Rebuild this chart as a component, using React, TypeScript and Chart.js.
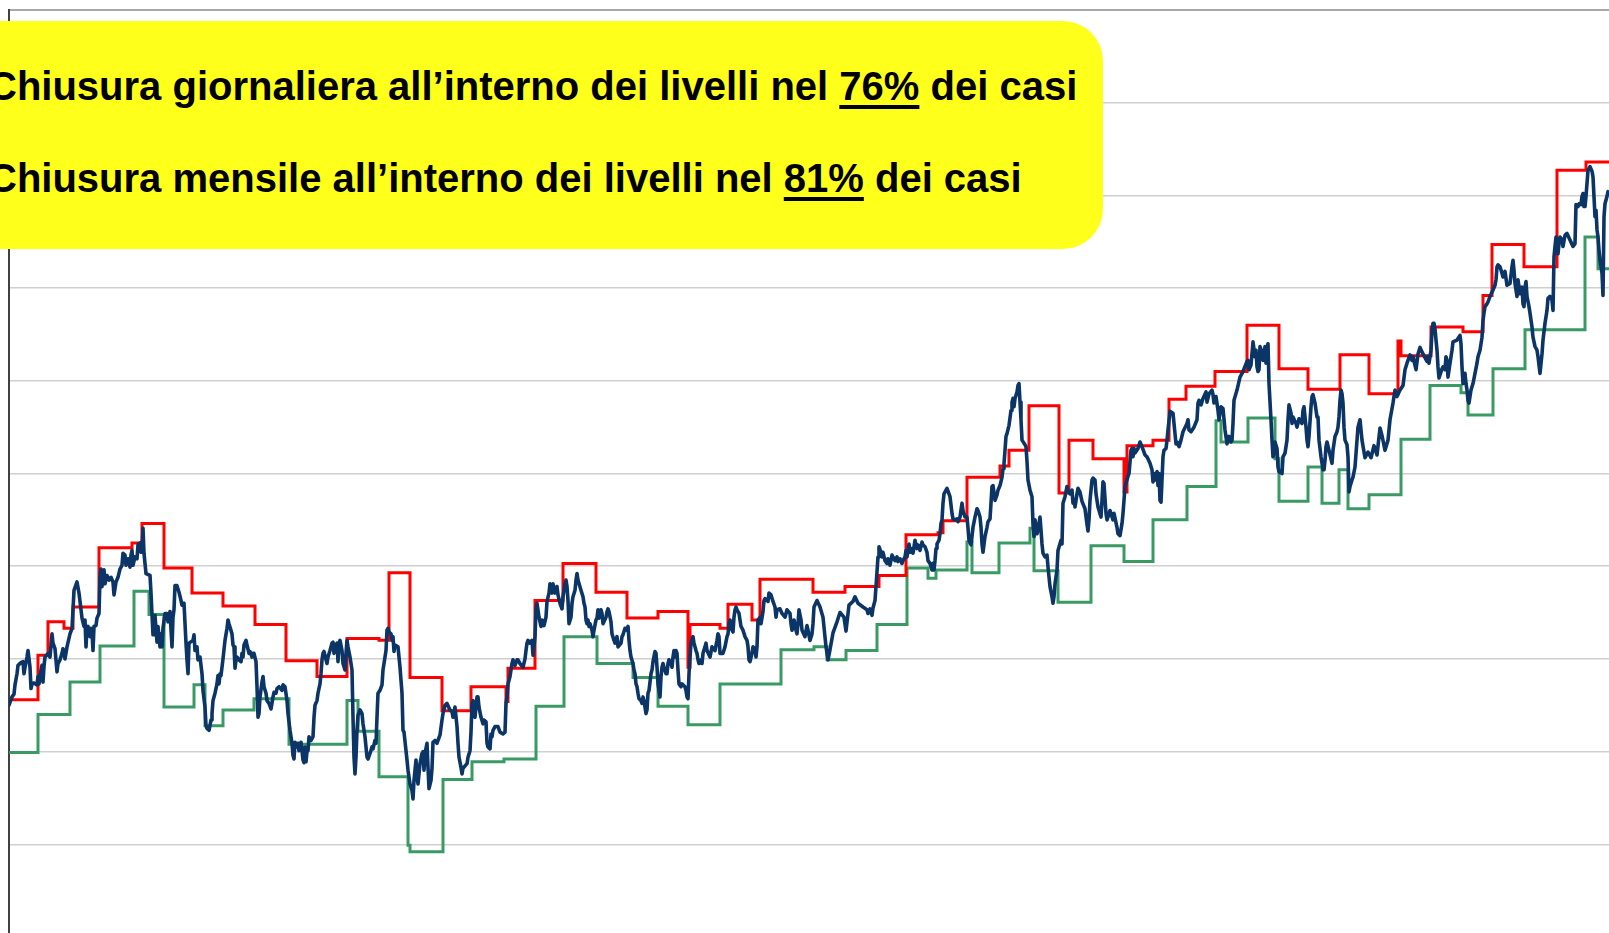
import React, { useEffect, useRef } from "react";
import { Chart, registerables } from "chart.js";

Chart.register(...registerables);

// Daily close: [trading day, level]
const dailyClose: [number, number][] = [
  [0,2.50],[3,2.59],[5,2.62],[6,2.72],[8,2.84],[9,2.93],[12,2.96],[14,2.97],[15,2.84],[16,2.91],[18,3.02],[19,3.09],[21,2.91],[22,2.68],[23,2.73],[25,2.74],[28,2.72],[29,2.81],[30,2.73],[31,2.82],[33,2.93],[34,2.75],[35,2.92],[36,3.02],[39,3.06],[41,3.02],[43,3.27],[44,3.17],[46,3.11],[48,2.86],[49,2.95],[51,2.99],[53,3.06],[54,3.11],[56,3.00],[58,3.13],[61,3.27],[63,3.33],[64,3.53],[65,3.74],[68,3.83],[70,3.71],[72,3.53],[73,3.44],[75,3.35],[76,3.42],[77,3.13],[78,3.33],[79,3.35],[81,3.24],[82,3.33],[83,3.29],[84,3.09],[85,3.35],[87,3.36],[88,3.44],[90,3.49],[91,3.88],[92,3.97],[93,3.78],[95,3.96],[96,3.81],[98,3.90],[100,3.85],[102,3.88],[104,3.83],[105,3.69],[107,3.83],[109,3.88],[111,3.97],[113,4.01],[114,4.14],[116,4.12],[117,4.01],[119,4.08],[121,3.99],[122,4.12],[123,4.17],[124,4.01],[126,4.10],[128,4.08],[129,4.23],[131,4.25],[132,4.15],[133,4.19],[134,4.41],[135,4.14],[137,3.92],[141,3.90],[142,3.71],[144,3.26],[145,3.26],[146,3.47],[148,3.18],[149,3.35],[151,3.13],[152,3.27],[153,3.13],[154,3.33],[156,3.49],[158,3.49],[159,3.40],[161,3.51],[163,3.13],[164,3.45],[165,3.53],[166,3.79],[168,3.79],[170,3.72],[172,3.63],[173,3.58],[175,3.60],[177,3.17],[178,2.99],[179,2.84],[180,3.17],[184,3.20],[185,3.26],[186,3.09],[188,3.13],[189,2.99],[191,3.02],[193,2.84],[194,2.66],[196,2.48],[197,2.28],[198,2.25],[200,2.23],[202,2.34],[203,2.41],[204,2.55],[206,2.63],[208,2.73],[209,2.82],[210,2.73],[211,2.84],[212,2.82],[214,3.00],[216,3.20],[218,3.33],[219,3.42],[220,3.38],[223,3.27],[224,3.15],[225,3.13],[226,2.90],[227,2.99],[228,3.02],[230,2.99],[232,2.97],[233,3.06],[234,3.02],[235,3.15],[237,3.20],[238,3.15],[240,3.06],[241,3.08],[243,3.02],[244,3.06],[245,3.06],[247,2.97],[248,2.70],[249,2.37],[250,2.41],[251,2.59],[253,2.75],[254,2.81],[255,2.70],[257,2.63],[258,2.55],[260,2.52],[262,2.46],[264,2.59],[265,2.64],[267,2.63],[268,2.68],[270,2.70],
  [273,2.66],[274,2.72],[276,2.70],[278,2.55],[279,2.41],[281,2.23],[283,2.09],[284,1.96],[285,1.92],[286,2.10],[288,2.05],[289,2.09],[290,2.01],[292,2.10],[293,2.01],[294,1.91],[295,1.88],[296,2.05],[297,1.89],[298,2.00],[299,2.01],[300,2.16],[302,2.12],[304,2.16],[305,2.37],[306,2.50],[308,2.55],[309,2.63],[311,2.73],[312,2.84],[313,2.99],[314,3.06],[315,3.08],[317,2.99],[318,2.95],[319,3.02],[321,3.09],[323,3.17],[324,3.18],[325,3.06],[326,3.13],[328,3.17],[329,2.97],[330,3.17],[331,3.20],[333,3.09],[334,2.95],[336,2.88],[337,3.06],[338,3.20],[339,3.13],[341,3.02],[342,2.95],[343,2.88],[344,2.37],[345,1.94],[346,1.76],[347,1.94],[348,2.23],[349,2.39],[351,2.45],[353,2.41],[354,2.30],[356,2.16],[358,1.94],[359,1.92],[361,1.98],[363,2.05],[364,2.03],[366,2.12],[367,2.09],[368,2.37],[369,2.63],[371,2.66],[373,2.72],[374,2.88],[376,3.02],[377,3.09],[378,3.31],[379,3.33],[380,3.29],[382,3.27],[383,3.20],[384,3.24],[385,3.08],[386,3.15],[389,3.13],[391,2.91],[393,2.63],[394,2.23],[395,2.21],[397,2.01],[398,1.91],[399,1.80],[401,1.65],[403,1.58],[404,1.49],[405,1.69],[407,1.91],[408,1.73],[409,1.65],[411,1.87],[413,1.98],[414,2.00],[415,1.80],[416,1.98],[418,2.09],[419,1.83],[420,1.60],[422,1.69],[423,1.82],[424,2.10],[426,2.12],[428,2.09],[429,2.12],[431,2.18],[433,2.34],[434,2.41],[436,2.50],[438,2.52],[441,2.45],[443,2.43],[444,2.37],[446,2.48],[448,2.27],[449,2.09],[450,1.94],[452,1.83],[453,1.76],[454,1.82],[458,1.87],[459,1.94],[461,2.01],[462,2.21],[463,2.52],[464,2.55],[465,2.41],[466,2.37],[468,2.59],[469,2.59],[470,2.48],[472,2.37],[474,2.30],[475,2.34],[477,2.32],[478,2.09],[479,2.05],[481,2.03],[482,2.19],[483,2.16],[484,2.23],[486,2.27],[489,2.27],[491,2.21],[494,2.19],[496,2.21],[497,2.52],[498,2.59],[499,2.73],[501,2.81],[502,2.81],[503,2.95],[504,2.99],[506,2.93],[508,2.99],[509,2.99],[511,2.95],[514,2.91],[516,3.00],[517,3.09],[518,3.17],[519,3.20],[521,3.17],[523,3.20],[524,3.04],[526,3.24],[527,3.53],[528,3.60],[530,3.45],[532,3.35],[533,3.42],[535,3.36],[537,3.45],[538,3.62],[540,3.71],[541,3.81],
  [543,3.71],[544,3.81],[546,3.71],[548,3.78],[549,3.69],[551,3.60],[553,3.54],[554,3.67],[556,3.81],[557,3.85],[558,3.78],[559,3.63],[560,3.38],[562,3.45],[563,3.60],[564,3.67],[566,3.74],[567,3.85],[568,3.92],[569,3.85],[572,3.74],[574,3.67],[575,3.60],[576,3.56],[577,3.42],[578,3.38],[579,3.42],[580,3.35],[581,3.38],[583,3.31],[584,3.24],[585,3.31],[587,3.42],[588,3.44],[589,3.53],[590,3.44],[592,3.53],[593,3.49],[594,3.38],[597,3.45],[598,3.51],[599,3.54],[600,3.51],[602,3.40],[603,3.27],[605,3.20],[606,3.17],[608,3.24],[609,3.13],[612,3.17],[613,3.24],[614,3.26],[616,3.33],[618,3.31],[619,3.35],[620,3.20],[621,3.09],[622,3.02],[624,2.95],[625,2.88],[626,2.84],[627,2.73],[628,2.70],[629,2.63],[630,2.57],[632,2.55],[633,2.52],[634,2.59],[635,2.55],[636,2.48],[637,2.41],[638,2.45],[639,2.63],[640,2.66],[642,2.84],[643,2.88],[644,2.97],[646,3.08],[647,3.06],[648,2.91],[649,2.73],[651,2.59],[652,2.81],[653,2.91],[654,2.95],[655,2.91],[657,2.84],[658,2.84],[659,2.95],[660,2.99],[662,2.95],[663,2.91],[664,3.02],[665,3.09],[666,3.02],[667,3.09],[668,3.06],[669,2.88],[670,2.73],[672,2.70],[673,2.73],[676,2.70],[677,2.66],[678,2.59],[679,2.57],[680,2.84],[681,3.02],[682,3.17],[684,3.24],[685,3.17],[687,3.09],[688,3.06],[689,2.99],[690,2.95],[692,2.99],[693,2.95],[694,3.06],[696,3.13],[697,3.17],[698,3.09],[701,3.02],[703,3.13],[706,3.09],[708,3.20],[709,3.27],[710,3.24],[711,3.06],[714,3.06],[716,3.13],[718,3.24],[719,3.27],[720,3.38],[721,3.42],[723,3.31],[724,3.29],[725,3.45],[726,3.53],[727,3.56],[728,3.53],[730,3.49],[731,3.42],[732,3.35],[734,3.31],[736,3.24],[738,3.20],[739,3.13],[740,2.99],[741,2.97],[743,3.06],[744,3.13],[746,3.11],[747,3.02],[748,3.13],[749,3.42],[751,3.45],[752,3.38],[754,3.51],[755,3.63],[756,3.65],[759,3.62],[760,3.71],[762,3.69],[764,3.62],[766,3.56],[767,3.45],[768,3.53],[771,3.54],[773,3.49],[776,3.45],[778,3.53],[781,3.49],[782,3.38],[783,3.31],[784,3.35],[785,3.42],[787,3.31],[788,3.27],[789,3.38],[790,3.53],[792,3.42],[793,3.31],[796,3.24],[798,3.36],[799,3.31],[801,3.20],[803,3.27],[804,3.38],[805,3.56],[808,3.63],
  [811,3.56],[814,3.45],[817,3.13],[819,2.99],[821,3.10],[824,3.28],[828,3.40],[831,3.50],[835,3.45],[837,3.30],[840,3.58],[844,3.62],[846,3.67],[849,3.60],[854,3.56],[858,3.53],[859,3.49],[861,3.54],[863,3.47],[864,3.55],[866,3.63],[867,3.78],[869,4.10],[870,4.21],[872,4.15],[873,4.10],[874,4.15],[876,4.06],[878,4.03],[879,4.08],[881,4.01],[883,4.12],[884,4.10],[886,4.06],[888,4.10],[889,4.05],[891,4.08],[893,4.03],[894,4.06],[896,4.10],[897,4.17],[898,4.10],[900,4.24],[901,4.15],[902,4.19],[904,4.14],[905,4.21],[906,4.28],[908,4.19],[909,4.23],[911,4.17],[913,4.26],[914,4.23],[916,4.21],[918,4.15],[919,4.06],[921,4.03],[923,3.96],[924,4.03],[925,3.96],[926,4.06],[927,4.19],[928,4.24],[930,4.28],[931,4.35],[932,4.46],[933,4.50],[934,4.68],[935,4.78],[937,4.82],[938,4.84],[940,4.78],[941,4.75],[943,4.57],[944,4.51],[946,4.50],[948,4.51],[949,4.48],[951,4.53],[953,4.68],[954,4.60],[956,4.53],[958,4.53],[959,4.41],[960,4.28],[962,4.23],[963,4.32],[964,4.42],[966,4.53],[968,4.62],[969,4.60],[971,4.53],[972,4.42],[973,4.24],[974,4.15],[976,4.32],[978,4.42],[979,4.48],[981,4.51],[982,4.68],[983,4.86],[984,4.87],[986,4.71],[988,4.77],[989,4.82],[991,4.87],[993,4.96],[994,5.05],[995,5.11],[996,5.25],[997,5.40],[998,5.43],[1000,5.52],[1002,5.68],[1003,5.77],[1004,5.81],[1005,5.72],[1006,5.81],[1008,5.88],[1009,5.95],[1010,5.97],[1011,5.77],[1012,5.58],[1013,5.36],[1016,5.31],[1017,5.29],[1018,5.13],[1019,4.93],[1021,4.82],[1023,4.75],[1024,4.45],[1025,4.32],[1026,4.50],[1028,4.35],[1029,4.39],[1030,4.46],[1031,4.53],[1032,4.39],[1033,4.24],[1034,4.14],[1036,4.10],[1038,4.12],[1039,3.99],[1041,3.78],[1043,3.67],[1044,3.60],[1045,3.67],[1046,3.81],[1048,3.96],[1049,4.17],[1052,4.28],[1053,4.24],[1054,4.68],[1056,4.75],[1058,4.86],[1059,4.82],[1061,4.78],[1063,4.82],[1064,4.68],[1065,4.71],[1066,4.64],[1068,4.78],[1069,4.84],[1071,4.80],[1073,4.70],[1076,4.62],[1078,4.45],[1079,4.38],[1080,4.50],
  [1081,4.71],[1083,4.93],[1084,4.95],[1086,4.93],[1087,4.78],[1089,4.64],[1092,4.53],[1093,4.71],[1094,4.91],[1095,4.89],[1097,4.57],[1098,4.50],[1101,4.60],[1104,4.50],[1105,4.57],[1108,4.42],[1109,4.35],[1111,4.33],[1113,4.46],[1114,4.57],[1115,4.71],[1116,4.86],[1119,4.97],[1120,5.00],[1122,5.25],[1123,5.27],[1124,5.18],[1125,5.27],[1126,5.22],[1129,5.27],[1131,5.34],[1133,5.29],[1136,5.20],[1138,5.18],[1141,5.11],[1143,5.04],[1144,4.91],[1146,5.00],[1147,4.93],[1148,5.02],[1149,4.87],[1150,5.00],[1151,4.71],[1152,4.69],[1153,4.93],[1154,5.18],[1155,5.25],[1157,5.27],[1158,5.36],[1159,5.47],[1161,5.67],[1164,5.65],[1165,5.54],[1166,5.43],[1167,5.32],[1168,5.34],[1170,5.29],[1172,5.36],[1174,5.45],[1178,5.54],[1179,5.58],[1180,5.47],[1182,5.45],[1185,5.50],[1188,5.58],[1189,5.76],[1190,5.79],[1192,5.74],[1194,5.81],[1197,5.88],[1198,5.77],[1200,5.86],[1203,5.90],[1204,5.85],[1205,5.76],[1207,5.83],[1209,5.68],[1210,5.58],[1212,5.72],[1214,5.70],[1216,5.47],[1218,5.32],[1220,5.40],[1222,5.34],[1223,5.36],[1224,5.54],[1225,5.79],[1228,5.90],[1231,6.04],[1234,6.10],[1238,6.21],[1239,6.22],[1240,6.12],[1242,6.17],[1244,6.42],[1246,6.26],[1247,6.33],[1248,6.15],[1249,6.10],[1250,6.12],[1251,6.37],[1253,6.31],[1254,6.22],[1255,6.26],[1256,6.37],[1257,6.19],[1258,6.35],[1259,6.40],[1260,5.97],[1262,5.58],[1263,5.36],[1264,5.18],[1265,5.22],[1266,5.34],[1268,5.27],[1269,5.07],[1270,5.02],[1273,5.00],[1274,5.18],[1276,5.22],[1278,5.36],[1279,5.58],[1280,5.74],[1282,5.65],[1283,5.54],[1284,5.61],[1287,5.54],[1288,5.50],[1290,5.59],[1293,5.54],[1294,5.68],[1295,5.72],[1297,5.50],[1298,5.36],[1299,5.29],[1300,5.40],[1302,5.72],[1303,5.83],[1304,5.85],[1306,5.76],[1308,5.61],[1309,5.61],[1310,5.36],[1312,5.18],[1314,5.04],[1315,5.04],[1316,5.14],[1317,5.29],[1318,5.34],[1320,5.25],[1323,5.11],[1324,5.25],[1326,5.40],[1328,5.45],[1329,5.50],[1330,5.61],[1331,5.79],[1332,5.90],[1333,5.86],[1334,5.76],[1335,5.50],[1336,5.36],[1338,5.31],[1339,5.18],[1340,4.80],[1341,4.86],[1343,4.93],[1344,4.96],[1346,5.07],[1348,5.36],[1349,5.50],[1351,5.58],
  [1353,5.36],[1356,5.17],[1359,5.23],[1362,5.17],[1365,5.30],[1368,5.20],[1371,5.49],[1373,5.41],[1376,5.25],[1379,5.36],[1381,5.58],[1384,5.76],[1386,5.90],[1388,5.83],[1391,5.90],[1394,5.95],[1396,6.12],[1398,6.19],[1401,6.28],[1403,6.22],[1404,6.26],[1407,6.12],[1409,6.29],[1411,6.36],[1414,6.29],[1418,6.21],[1419,6.26],[1420,6.19],[1422,6.33],[1423,6.53],[1424,6.62],[1425,6.62],[1426,6.56],[1427,6.44],[1428,6.33],[1429,6.15],[1430,6.03],[1433,6.13],[1434,6.15],[1436,6.12],[1437,6.26],[1438,6.22],[1439,6.04],[1441,6.19],[1443,6.33],[1444,6.42],[1448,6.44],[1451,6.49],[1452,6.40],[1453,6.15],[1454,5.97],[1455,6.01],[1456,6.08],[1457,5.97],[1458,5.90],[1459,5.79],[1460,5.76],[1462,5.90],[1464,5.97],[1466,6.08],[1468,6.19],[1469,6.26],[1471,6.33],[1473,6.47],[1474,6.65],[1475,6.73],[1476,6.80],[1478,6.83],[1479,6.85],[1481,6.91],[1484,6.98],[1486,7.03],[1487,7.09],[1488,7.23],[1489,7.25],[1491,7.23],[1493,7.16],[1494,7.12],[1496,7.18],[1498,7.03],[1501,7.05],[1503,7.23],[1504,7.30],[1505,7.19],[1506,7.05],[1508,6.91],[1509,7.09],[1511,6.94],[1513,7.01],[1514,6.83],[1515,6.80],[1516,7.01],[1517,7.07],[1518,6.91],[1520,6.80],[1521,6.73],[1523,6.58],[1524,6.47],[1526,6.37],[1528,6.33],[1529,6.26],[1531,6.08],[1533,6.29],[1534,6.44],[1536,6.62],[1538,6.76],[1539,6.89],[1541,6.91],[1543,6.87],[1544,6.76],[1545,7.34],[1546,7.45],[1547,7.55],[1548,7.48],[1549,7.37],[1550,7.48],[1551,7.55],[1553,7.52],[1554,7.45],[1556,7.57],[1558,7.59],[1561,7.52],[1564,7.45],[1566,7.48],[1567,7.90],[1569,7.88],[1570,7.91],[1572,7.90],[1573,7.99],[1574,8.02],[1575,7.88],[1576,7.88],[1577,7.99],[1578,8.13],[1579,8.27],[1581,8.31],[1583,8.26],[1584,8.20],[1586,7.77],[1587,7.84],[1588,7.63],[1589,7.55],[1590,7.41],[1591,7.30],[1593,7.16],[1594,6.92],[1595,7.77],[1596,7.91],[1598,7.99],[1599,8.04],[1600,8.02],
];

// Monthly upper level: [first day, level]
const upperLevel: [number, number][] = [
  [0,2.56],[29,3.04],[39,3.40],[55,3.33],[64,3.56],[90,4.20],[123,4.25],[133,4.46],[155,3.98],[183,3.71],[214,3.57],[246,3.37],[277,2.98],[308,2.81],[338,3.22],[370,3.20],[380,3.93],[401,2.80],[433,2.44],[462,2.70],[497,2.54],[499,2.90],[526,3.63],[554,4.03],[587,3.72],[618,3.44],[649,3.51],[679,2.91],[681,3.37],[711,3.33],[719,3.59],[743,3.42],[751,3.86],[804,3.72],[836,3.78],[870,3.90],[897,4.34],[929,4.36],[934,4.49],[958,4.96],[991,5.08],[1000,5.25],[1020,5.73],[1050,4.79],[1060,5.36],[1084,5.16],[1115,4.80],[1118,5.30],[1144,5.36],[1160,5.80],[1177,5.94],[1206,6.10],[1238,6.60],[1270,6.13],[1299,5.91],[1331,6.28],[1360,5.86],[1389,6.43],[1392,6.27],[1422,6.58],[1454,6.53],[1474,6.92],[1483,7.47],[1515,7.23],[1548,8.27],[1577,8.36],[1600,8.36],
];

// Monthly lower level: [first day, level]
const lowerLevel: [number, number][] = [
  [0,1.99],[29,2.40],[61,2.75],[91,3.14],[125,3.73],[140,3.48],[155,2.48],[185,2.72],[196,2.28],[214,2.45],[245,2.57],[280,2.08],[338,2.55],[349,2.22],[370,1.73],[399,0.99],[401,0.92],[434,1.70],[463,1.89],[495,1.92],[527,2.49],[555,3.24],[588,2.95],[624,2.80],[649,2.49],[679,2.29],[711,2.73],[772,3.10],[805,3.13],[818,2.99],[837,3.09],[868,3.37],[898,3.98],[919,3.87],[927,3.96],[958,4.26],[963,3.93],[990,4.25],[1021,4.41],[1025,3.95],[1049,3.61],[1082,4.22],[1115,4.05],[1144,4.50],[1178,4.86],[1207,5.57],[1212,5.34],[1239,5.60],[1266,5.16],[1270,4.70],[1299,5.07],[1313,4.68],[1330,5.04],[1339,4.62],[1360,4.77],[1392,5.37],[1421,5.95],[1452,5.87],[1459,5.63],[1484,6.13],[1516,6.55],[1576,7.55],[1589,7.21],[1600,7.21],
];

const dayMin = 0;
const dayMax = 1600;
const levelMin = 0;
const levelMax = 10;
const levelStep = 1;

const noteLines = [
  { before: "Chiusura giornaliera all\u2019interno dei livelli nel ", pct: "76%", after: " dei casi" },
  { before: "Chiusura mensile all\u2019interno dei livelli nel ", pct: "81%", after: " dei casi" },
];

export default function App() {
  const canvasRef = useRef<HTMLCanvasElement | null>(null);

  useEffect(() => {
    const canvas = canvasRef.current;
    if (!canvas) return;
    const toPts = (arr: [number, number][]) => arr.map(([x, y]) => ({ x, y }));
    const chart = new Chart(canvas, {
      type: "line",
      data: {
        datasets: [
          {
            label: "Chiusura giornaliera",
            data: toPts(dailyClose),
            borderColor: "#0b3467",
            borderWidth: 3.6,
            pointRadius: 0,
            tension: 0,
            borderJoinStyle: "round",
            borderCapStyle: "round",
          },
          {
            label: "Livello superiore",
            data: toPts(upperLevel),
            borderColor: "#ff0000",
            borderWidth: 3,
            pointRadius: 0,
            stepped: "before",
          },
          {
            label: "Livello inferiore",
            data: toPts(lowerLevel),
            borderColor: "#3a9a64",
            borderWidth: 3,
            pointRadius: 0,
            stepped: "before",
          },
        ],
      },
      options: {
        animation: false,
        responsive: false,
        maintainAspectRatio: false,
        layout: { padding: { left: 9, top: 10, right: 0, bottom: 13 } },
        plugins: { legend: { display: false }, tooltip: { enabled: false } },
        scales: {
          x: { type: "linear", min: dayMin, max: dayMax, display: false },
          y: {
            min: levelMin,
            max: levelMax,
            ticks: { display: false, stepSize: levelStep },
            grid: {
              drawTicks: false,
              color: (ctx: any) => (ctx.tick && ctx.tick.value === levelMax ? "#a8a8a8" : "#cfcfcf"),
              lineWidth: (ctx: any) => (ctx.tick && ctx.tick.value === levelMax ? 2 : 1.5),
            },
            border: { display: true, color: "#404040", width: 2 },
          },
        },
      },
    } as any);
    return () => chart.destroy();
  }, []);

  const font = '"Liberation Sans", Arial, Helvetica, sans-serif';

  return (
    <div
      style={{
        position: "fixed",
        left: 0,
        top: 0,
        width: 1609,
        height: 933,
        overflow: "hidden",
        background: "#ffffff",
      }}
    >
      <canvas ref={canvasRef} width={1609} height={950} style={{ position: "absolute", left: 0, top: 0 }} />
      <div
        style={{
          position: "absolute",
          left: -50,
          top: 21,
          width: 1153,
          height: 228,
          borderRadius: 40,
          background: "#ffff1c",
        }}
      />
      {noteLines.map((ln, i) => (
        <div
          key={i}
          style={{
            position: "absolute",
            left: -12,
            top: i === 0 ? 66 : 157.5,
            fontFamily: font,
            fontWeight: "bold",
            fontSize: 40,
            lineHeight: "40px",
            whiteSpace: "nowrap",
            color: "#000000",
          }}
        >
          {ln.before}
          <span
            style={{
              textDecoration: "underline",
              textDecorationThickness: "4px",
              textUnderlineOffset: "5px",
            }}
          >
            {ln.pct}
          </span>
          {ln.after}
        </div>
      ))}
    </div>
  );
}
